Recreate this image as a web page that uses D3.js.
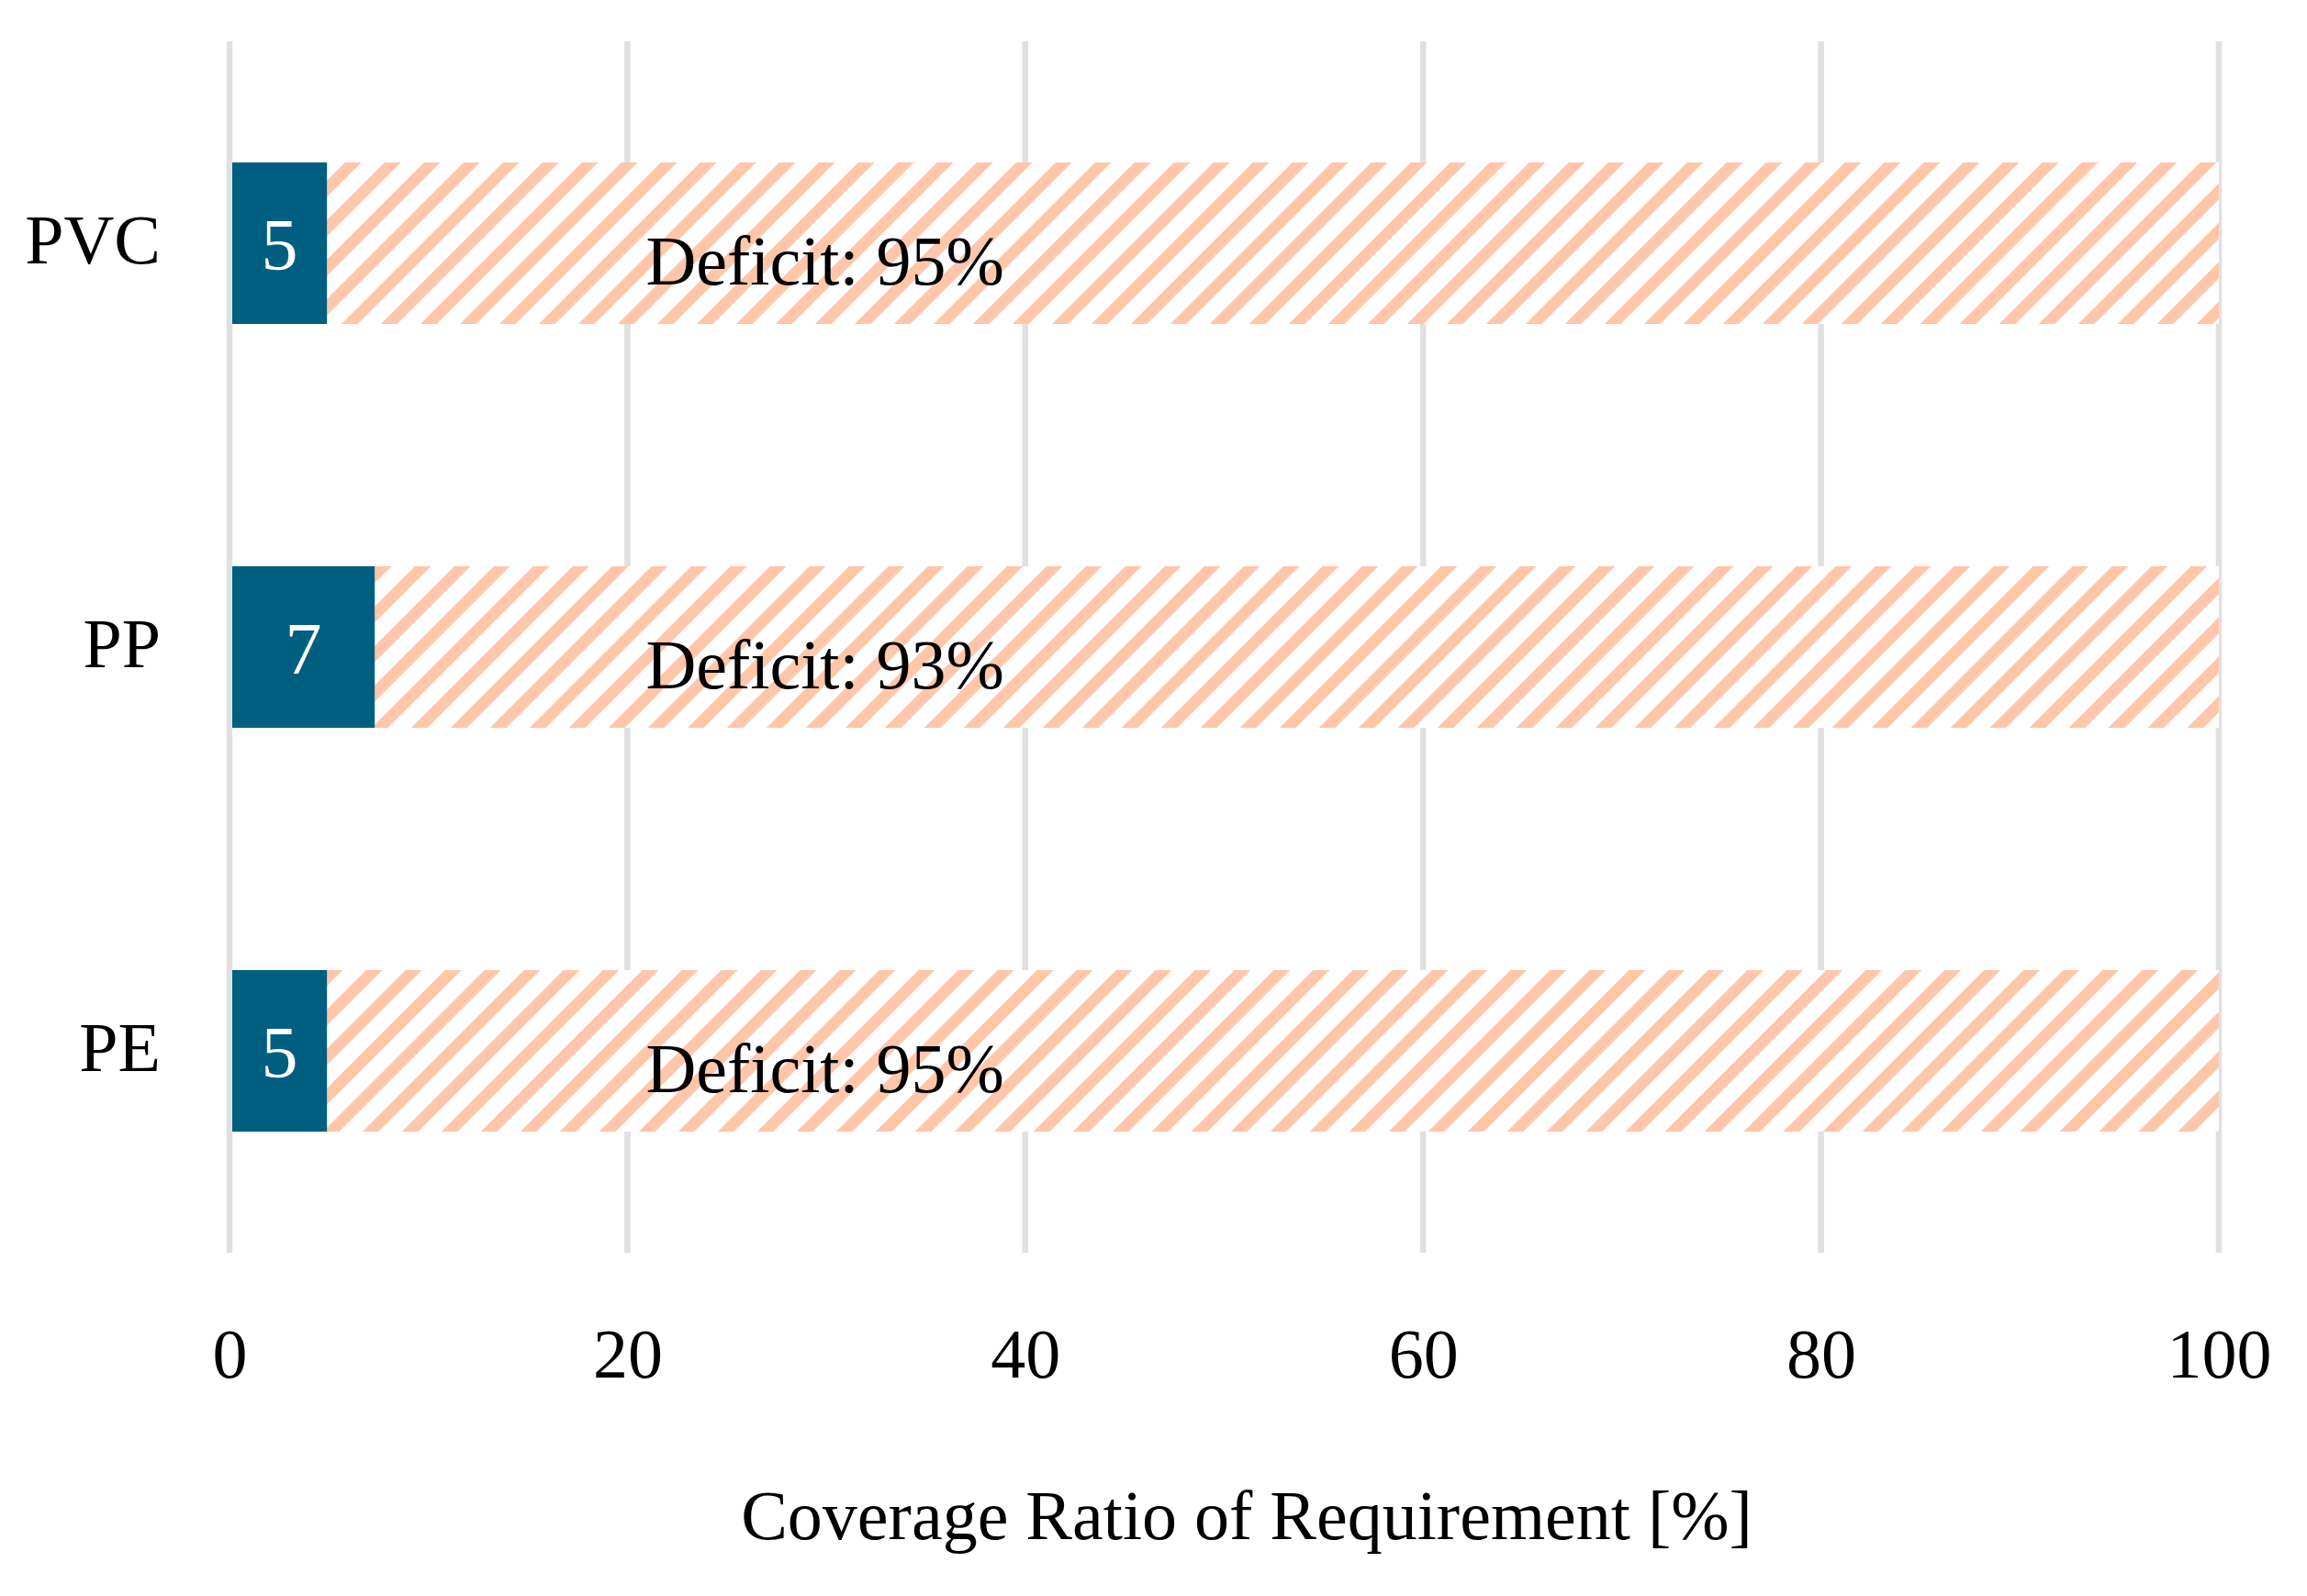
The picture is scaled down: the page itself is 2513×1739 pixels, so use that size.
<!DOCTYPE html>
<html>
<head>
<meta charset="utf-8">
<script src="https://cdn.jsdelivr.net/npm/d3@7"></script>
<style>
  body { margin: 0; background: #fff; }
  text { font-family: "Liberation Serif", "Times New Roman", serif; fill: #000; }
</style>
</head>
<body>
<div id="chart"></div>
<script>
// Data
const materials = ["PVC", "PP", "PE"];
const coverage = [4.9, 7.3, 4.9];          // share of requirement covered [%]
const coverageLabels = ["5", "7", "5"];
const deficitLabels = ["Deficit: 95%", "Deficit: 93%", "Deficit: 95%"];
const xTicks = [0, 20, 40, 60, 80, 100];

const data = materials.map((m, i) => ({
  name: m, value: coverage[i], label: coverageLabels[i], deficit: deficitLabels[i]
}));

const margin = {top: 45, right: 96, bottom: 374, left: 250},
    width = 2513 - margin.left - margin.right,
    height = 1739 - margin.top - margin.bottom;

const svg = d3.select("#chart")
  .append("svg")
    .attr("width", 2513)
    .attr("height", 1739)
  .append("g")
    .attr("transform", `translate(${margin.left}, ${margin.top})`);

// hatch for the deficit part (white ground so the grid does not show through)
const defs = svg.append("defs");
const pat = defs.append("pattern")
    .attr("id", "hatch")
    .attr("patternUnits", "userSpaceOnUse")
    .attr("width", 30.4)
    .attr("height", 30.4)
    .attr("patternTransform", "rotate(45)");
pat.append("rect")
    .attr("width", 30.4).attr("height", 30.4)
    .attr("fill", "#ffffff");
pat.append("rect")
    .attr("x", 0).attr("y", 0)
    .attr("width", 12.5).attr("height", 30.4)
    .attr("fill", "#ffc6aa");

const x = d3.scaleLinear().domain([0, 100]).range([0, width]);
const y = d3.scaleBand().domain(materials).range([0, height])
    .paddingInner(0.6).paddingOuter(0.3);

// vertical grid lines
svg.append("g")
  .selectAll("line")
  .data(xTicks)
  .enter()
  .append("line")
    .attr("x1", d => x(d))
    .attr("x2", d => x(d))
    .attr("y1", 0)
    .attr("y2", height)
    .attr("stroke", "#e0e0e0")
    .attr("stroke-width", 6.5);

// x axis labels (no domain line, no ticks)
const xAxis = svg.append("g")
  .attr("transform", `translate(0, ${height})`)
  .call(d3.axisBottom(x).tickValues(xTicks).tickSize(0).tickPadding(136).tickFormat(d3.format("d")));
xAxis.select(".domain").remove();
xAxis.selectAll("text")
  .attr("font-size", "76px")
  .attr("font-family", "Liberation Serif, serif")
  .attr("dy", 0);

// y axis labels
const yAxis = svg.append("g")
  .call(d3.axisLeft(y).tickSize(0).tickPadding(75));
yAxis.select(".domain").remove();
yAxis.selectAll("text")
  .attr("font-size", "76px")
  .attr("font-family", "Liberation Serif, serif")
  .attr("dy", 22);

// deficit (hatched) bars
svg.selectAll("rect.deficit")
  .data(data)
  .enter()
  .append("rect")
    .attr("class", "deficit")
    .attr("x", d => x(d.value))
    .attr("y", d => y(d.name))
    .attr("width", d => x(100) - x(d.value))
    .attr("height", y.bandwidth())
    .attr("fill", "url(#hatch)");

// coverage bars
svg.selectAll("rect.cover")
  .data(data)
  .enter()
  .append("rect")
    .attr("class", "cover")
    .attr("x", x(0) + 3)
    .attr("y", d => y(d.name))
    .attr("width", d => x(d.value) - x(0) - 3)
    .attr("height", y.bandwidth())
    .attr("fill", "#005f80");

// value labels inside the dark bars
svg.selectAll("text.val")
  .data(data)
  .enter()
  .append("text")
    .attr("class", "val")
    .attr("x", d => (x(0) + 3 + x(d.value)) / 2)
    .attr("y", d => y(d.name) + y.bandwidth() / 2 + 29)
    .attr("text-anchor", "middle")
    .attr("font-size", "80px")
    .style("fill", "#ffffff")
    .text(d => d.label);

// deficit labels
svg.selectAll("text.def")
  .data(data)
  .enter()
  .append("text")
    .attr("class", "def")
    .attr("x", x(20) + 20)
    .attr("y", d => y(d.name) + y.bandwidth() / 2 + 45)
    .attr("font-size", "76px")
    .text(d => d.deficit);

// axis title
svg.append("text")
  .attr("x", (785 + 1931) / 2 - margin.left)
  .attr("y", 1677 - margin.top)
  .attr("text-anchor", "middle")
  .attr("font-size", "76px")
  .text("Coverage Ratio of Requirement [%]");
</script>
</body>
</html>
